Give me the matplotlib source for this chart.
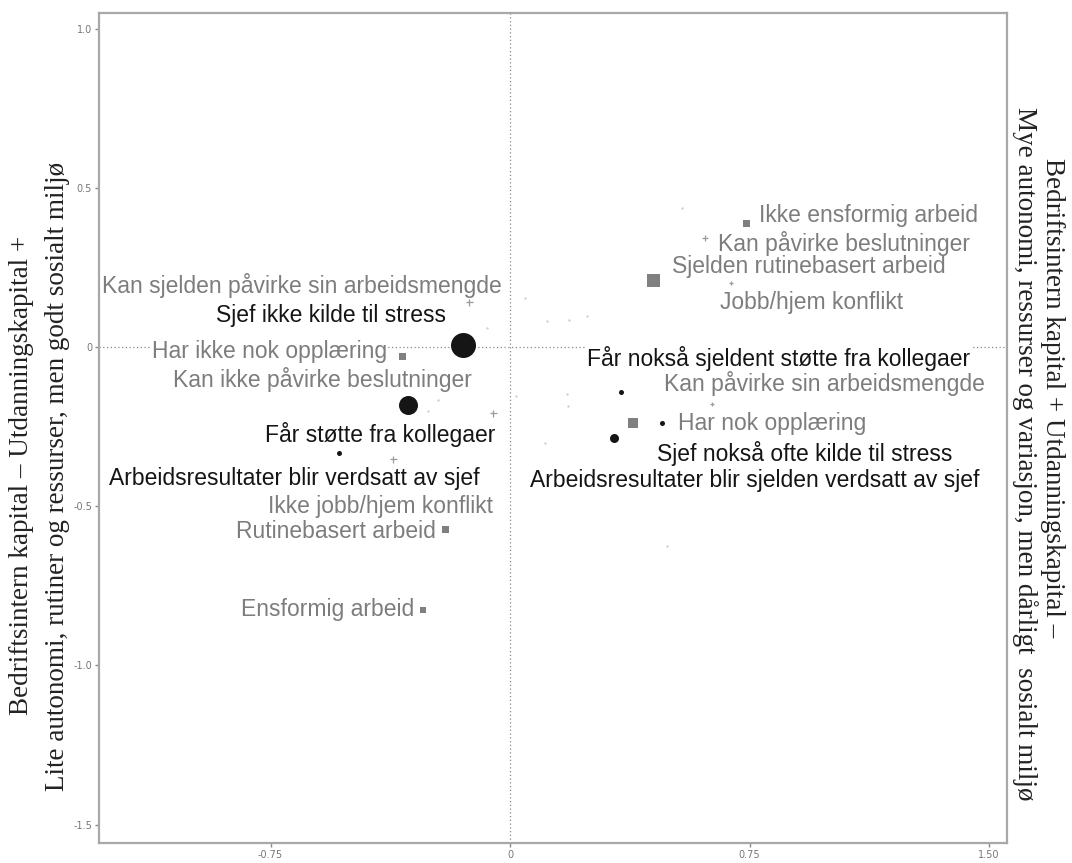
import matplotlib
matplotlib.use("Agg")
import matplotlib.pyplot as plt

# Category coordinates (dimension 1, dimension 2)
labels = [
    "Kan sjelden påvirke sin arbeidsmengde",
    "Sjef ikke kilde til stress",
    "Har ikke nok opplæring",
    "Kan ikke påvirke beslutninger",
    "Får støtte fra kollegaer",
    "Arbeidsresultater blir verdsatt av sjef",
    "Ikke jobb/hjem konflikt",
    "Rutinebasert arbeid",
    "Ensformig arbeid",
    "Ikke ensformig arbeid",
    "Kan påvirke beslutninger",
    "Sjelden rutinebasert arbeid",
    "Jobb/hjem konflikt",
    "Får nokså sjeldent støtte fra kollegaer",
    "Kan påvirke sin arbeidsmengde",
    "Har nok opplæring",
    "Sjef nokså ofte kilde til stress",
    "Arbeidsresultater blir sjelden verdsatt av sjef",
]
dim1 = [-0.128, -0.147, -0.338, -0.053, -0.319, -0.535, -0.366, -0.203, -0.272,
        0.739, 0.610, 0.448, 0.692, 0.347, 0.632, 0.385, 0.325, 0.476]
dim2 = [0.141, 0.006, -0.028, -0.207, -0.182, -0.333, -0.352, -0.572, -0.826,
        0.389, 0.342, 0.210, 0.201, -0.141, -0.179, -0.239, -0.286, -0.239]

# unlabeled (supplementary) categories
supp_dim1 = [0.047, 0.116, 0.185, 0.241, -0.072, -0.225, -0.257, 0.019, 0.178,
             0.182, 0.110, 0.538, 0.491]
supp_dim2 = [0.154, 0.082, 0.085, 0.097, 0.060, -0.166, -0.201, -0.154, -0.148,
             -0.185, -0.302, 0.437, -0.625]

# marker style per category: circle = sjef/kollegaer, square = arbeidets art, plus = innflytelse
kind = ["plus", "circle", "square", "plus", "circle", "circle", "plus", "square", "square",
        "square", "plus", "square", "plus", "circle", "plus", "square", "circle", "circle"]
size_px = [7, 25, 7, 7, 19, 5, 7, 7, 6, 7, 6, 13, 5, 5, 5, 10, 9, 5]
# label offset from marker (pixels)
offsets = [(-167, 17), (-132, 30), (-133, 4), (-171, 33), (-28, -30), (-45, -26),
           (-13, -47), (-109, -2), (-96, 0), (122, 8), (139, -5), (156, 14),
           (81, -20), (158, 33), (113, 20), (139, 0), (191, -15), (93, -57)]

BLACK = "#151515"
GREY = "#7d7d7d"

fig = plt.figure(figsize=(10.72, 8.63), dpi=100)
ax = fig.add_axes([99 / 1072, 1 - 843 / 863, (1007 - 99) / 1072, (843 - 13) / 863])
ax.set_xlim(-1.287, 1.556)
ax.set_ylim(-1.558, 1.049)

ax.axhline(0, color="#8a8a8a", lw=0.9, ls=(0, (1, 2)), zorder=1)
ax.axvline(0, color="#8a8a8a", lw=0.9, ls=(0, (1, 2)), zorder=1)

ax.scatter(supp_dim1, supp_dim2, s=3, color="#d0d0d0", lw=0, zorder=2)

for i, lab in enumerate(labels):
    x, y = dim1[i], dim2[i]
    d = size_px[i] * 0.72
    if kind[i] == "circle":
        ax.scatter([x], [y], s=d ** 2, marker="o", color=BLACK, lw=0, zorder=4)
        tcol = BLACK
    elif kind[i] == "square":
        ax.scatter([x], [y], s=d ** 2, marker="s", color="#808080", lw=0, zorder=4)
        tcol = GREY
    else:
        ax.plot([x], [y], marker="+", ms=d, mew=0.9, color="#9a9a9a", zorder=4)
        tcol = GREY
    bbox = None
    if abs(offsets[i][1] + y * 318) < 14:
        bbox = dict(boxstyle="square,pad=0.05", fc="white", ec="none")
    ax.annotate(lab, (x, y), xytext=offsets[i], textcoords="offset pixels",
                ha="center", va="center", fontsize=16.5, color=tcol,
                family="Liberation Sans", bbox=bbox, zorder=3)

for sp in ax.spines.values():
    sp.set_color("#a8a8a8")
    sp.set_linewidth(1.6)

ax.set_xticks([-0.75, 0, 0.75, 1.5])
ax.set_xticklabels(["-0.75", "0", "0.75", "1.50"])
ax.set_yticks([-1.5, -1.0, -0.5, 0, 0.5, 1.0])
ax.set_yticklabels(["-1.5", "-1.0", "-0.5", "0", "0.5", "1.0"])
ax.tick_params(length=3, width=1, color="#888888", labelcolor="#777777",
               labelsize=7, pad=2)

serif = "Liberation Serif"
fig.text(22 / 1072, 1 - 475 / 863, "Bedriftsintern kapital – Utdanningskapital +",
         rotation=90, ha="center", va="center", fontsize=19.5, family=serif, color="#222222")
fig.text(58 / 1072, 1 - 476 / 863, "Lite autonomi, rutiner og ressurser, men godt sosialt miljø",
         rotation=90, ha="center", va="center", fontsize=19.5, family=serif, color="#222222")
fig.text(1052 / 1072, 1 - 398 / 863, "Bedriftsintern kapital + Utdanningskapital –",
         rotation=-90, ha="center", va="center", fontsize=19.5, family=serif, color="#222222")
fig.text(1025 / 1072, 1 - 454 / 863, "Mye autonomi, ressurser og variasjon, men dårligt  sosialt miljø",
         rotation=-90, ha="center", va="center", fontsize=19.5, family=serif, color="#222222")

fig.savefig("out.png", dpi=100)
